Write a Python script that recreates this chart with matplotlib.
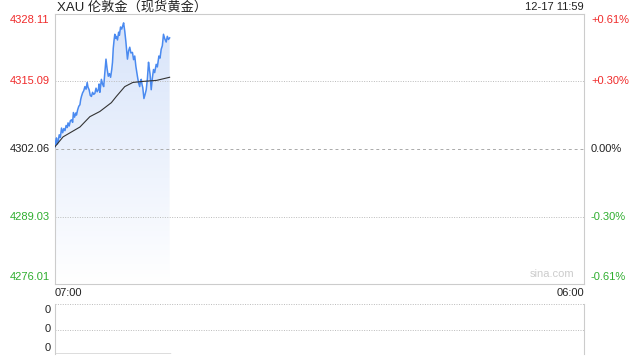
import numpy as np
import matplotlib
matplotlib.use("Agg")
import matplotlib.pyplot as plt
from matplotlib.patches import Polygon

plt.rcParams["font.family"] = ["Liberation Sans", "Noto Sans CJK SC", "DejaVu Sans"]

# ── 데이터 (분, 07:00 기준) ──
minutes = [0, 2, 4, 6, 8, 11, 14, 17, 20, 23, 26, 29, 32, 34, 37, 40, 43, 46, 48, 51,
           54, 56, 59, 62, 65, 67, 69, 72, 75, 78, 81, 84, 86, 89, 92, 95, 98, 101, 104, 107,
           110, 113, 115, 117, 119, 121, 124, 127, 130, 133, 136, 139, 142, 145, 148, 150, 152, 154, 156, 158,
           160, 163, 166, 168, 171, 174, 177, 179, 182, 185, 187, 189, 192, 195, 198, 202, 205, 208, 211, 215,
           218, 221, 223, 225, 227, 229, 232, 235, 238, 241, 244, 246, 248, 251, 254, 257, 260, 264, 267, 271,
           274, 277, 280, 283, 286, 290, 293, 296, 299]
price = [4302.5, 4303.6, 4304.2, 4303.0, 4303.4, 4304.8, 4304.3, 4306.1, 4305.2, 4306.0,
         4305.6, 4306.6, 4306.2, 4307.1, 4306.5, 4307.5, 4307.7, 4307.2, 4309.1, 4308.2,
         4309.0, 4308.6, 4309.6, 4310.3, 4310.6, 4311.6, 4312.2, 4312.9, 4313.3, 4314.1,
         4313.6, 4314.9, 4314.0, 4313.5, 4312.4, 4312.2, 4313.0, 4312.6, 4312.8, 4313.8,
         4313.1, 4313.5, 4314.6, 4313.0, 4314.2, 4315.5, 4314.6, 4314.1, 4316.8, 4319.4,
         4317.5, 4316.1, 4316.6, 4315.9, 4317.4, 4318.8, 4321.5, 4323.0, 4324.2, 4323.4,
         4323.8, 4323.1, 4324.6, 4324.0, 4325.6, 4325.2, 4325.9, 4326.4, 4324.8, 4322.7,
         4321.0, 4319.4, 4321.0, 4321.7, 4320.6, 4320.7, 4319.3, 4320.0, 4318.0, 4316.1,
         4314.8, 4314.1, 4315.2, 4315.5, 4314.5, 4313.9, 4311.8, 4312.6, 4313.5, 4315.6,
         4318.8, 4317.6, 4316.5, 4313.5, 4315.8, 4317.4, 4316.8, 4318.4, 4317.9, 4320.0,
         4319.6, 4321.3, 4322.0, 4324.2, 4323.4, 4322.7, 4323.8, 4323.2, 4323.5]
avg_minutes = [0, 21, 65, 91, 117, 147, 160, 182, 203, 229, 265, 299]
avg_price = [4302.5, 4304.4, 4306.3, 4308.3, 4309.3, 4311.0, 4312.2, 4314.1, 4314.9, 4315.1, 4315.3, 4315.9]

PREV = 4302.06
y_ticks = [4328.11, 4315.09, 4302.06, 4289.03, 4276.01]
y_labels = ["4328.11", "4315.09", "4302.06", "4289.03", "4276.01"]
pct_labels = ["+0.61%", "+0.30%", "0.00%", "-0.30%", "-0.61%"]
TOTAL_MIN = 1380                     # 07:00 → 익일 06:00
RED, GREEN, BLACK = "#f02b2b", "#2fae2f", "#222222"
tick_col = [RED, RED, BLACK, GREEN, GREEN]

fig = plt.figure(figsize=(6.4, 3.6), dpi=100)
ax = fig.add_axes([55 / 640, 1 - 284 / 360, 529 / 640, 270 / 360])
axv = fig.add_axes([55 / 640, 1 - 354 / 360, 529 / 640, 50 / 360])

# ── 가격 패널 ──
ax.set_xlim(0, TOTAL_MIN); ax.set_ylim(y_ticks[-1], y_ticks[0])
for s in ax.spines.values():
    s.set_color("#cccccc"); s.set_linewidth(0.8)
ax.set_xticks([]); ax.set_yticks([])
ax.axhline(y_ticks[1], color="#bbbbbb", lw=0.7, ls=(0, (1, 1.5)))
ax.axhline(y_ticks[3], color="#bbbbbb", lw=0.7, ls=(0, (1, 1.5)))
ax.axhline(PREV, color="#aaaaaa", lw=0.7, ls=(0, (3, 3)))

# 그라데이션 채움
grad = np.linspace(0, 1, 256).reshape(-1, 1)
top = np.array([0.84, 0.89, 0.98]); bot = np.array([1.0, 1.0, 1.0])
img = top[None, None, :] * (1 - grad[:, :, None]) + bot[None, None, :] * grad[:, :, None]
im = ax.imshow(img, extent=[0, minutes[-1], y_ticks[-1], y_ticks[0]], aspect="auto", zorder=1, origin="upper")
verts = list(zip(minutes, price)) + [(minutes[-1], y_ticks[-1]), (0, y_ticks[-1])]
poly = Polygon(verts, closed=True, facecolor="none", edgecolor="none", transform=ax.transData)
ax.add_patch(poly)
im.set_clip_path(poly)
ax.set_xlim(0, TOTAL_MIN); ax.set_ylim(y_ticks[-1], y_ticks[0])

ax.plot(minutes, price, color="#4a8af0", lw=1.1, zorder=3)
ax.plot(avg_minutes, avg_price, color="#333333", lw=0.8, zorder=4)

# 축 라벨 (좌 가격 / 우 퍼센트) — 위·아래 끝은 안쪽으로 약간 이동 (px)
offs = [6, 0, 0, 0, -7]
for v, lab, pl, c, o in zip(y_ticks, y_labels, pct_labels, tick_col, offs):
    ax.annotate(lab, (0, v), xycoords=("axes fraction", "data"), xytext=(-4, -o * 0.72),
                textcoords="offset points", ha="right", va="center", fontsize=8, color=c)
    ax.annotate(pl, (1, v), xycoords=("axes fraction", "data"), xytext=(5, -o * 0.72),
                textcoords="offset points", ha="left", va="center", fontsize=8, color=c)

fig.text(57 / 640, 1 - 7 / 360, "XAU 伦敦金（现货黄金）", fontsize=9.5, color="#222222", ha="left", va="center")
fig.text(584 / 640, 1 - 7 / 360, "12-17 11:59", fontsize=8, color="#222222", ha="right", va="center")
fig.text(55 / 640, 1 - 293 / 360, "07:00", fontsize=8, color="#222222", ha="left", va="center")
fig.text(584 / 640, 1 - 293 / 360, "06:00", fontsize=8, color="#222222", ha="right", va="center")
ax.text(0.94, 0.02, "sina.com", transform=ax.transAxes, fontsize=8, color="#cccccc", ha="center", va="bottom")

# ── 거래량 패널 ──
axv.set_xlim(0, TOTAL_MIN); axv.set_ylim(0, 1)
axv.set_xticks([]); axv.set_yticks([])
for k in ("top", "bottom"):
    axv.spines[k].set_visible(False)
for k in ("left", "right"):
    axv.spines[k].set_color("#cccccc"); axv.spines[k].set_linewidth(0.8)
for yy in (0.995, 0.48, 0.005):
    axv.axhline(yy, color="#bbbbbb", lw=0.7, ls=(0, (1, 1.5)))
axv.plot([0, minutes[-1]], [0.01, 0.01], color="#555555", lw=1.0)
for yy in (0.88, 0.5, 0.12):
    axv.text(-0.008, yy, "0", transform=axv.transAxes, fontsize=8, color="#222222", ha="right", va="center")

fig.savefig("out.png", dpi=100)
